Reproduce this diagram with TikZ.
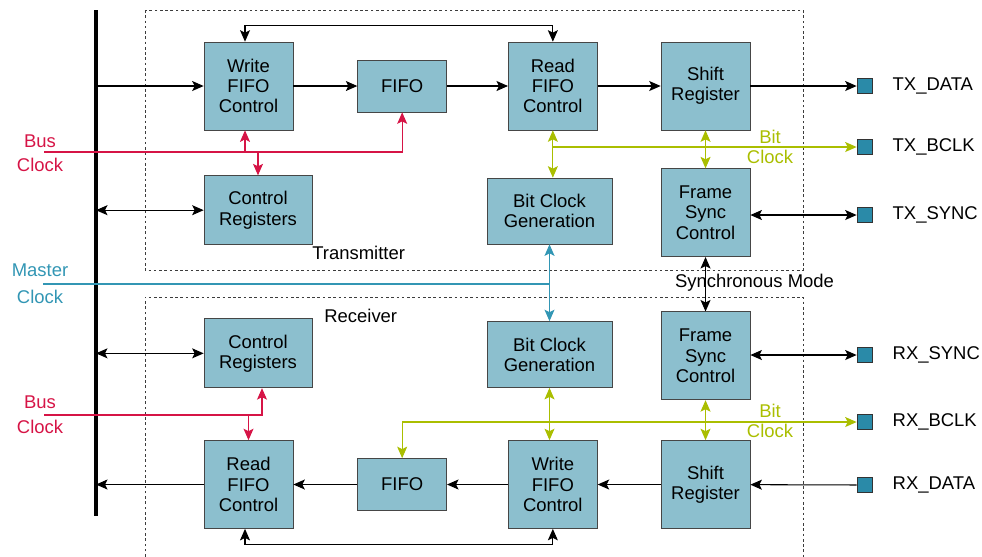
\documentclass[tikz,border=0pt]{standalone}
\usepackage{fontspec}
\setmainfont{Liberation Sans}
\usetikzlibrary{arrows.meta, positioning}
\definecolor{blockfill}{RGB}{140, 191, 206}
\definecolor{blockline}{RGB}{70, 70, 70}
\definecolor{pinfill}{RGB}{42, 138, 168}
\definecolor{busred}{RGB}{214, 20, 70}
\definecolor{bitgreen}{RGB}{170, 190, 0}
\definecolor{masterblue}{RGB}{50, 150, 180}
\definecolor{framegray}{RGB}{60, 60, 60}

\begin{document}
\begin{tikzpicture}[
    x=0.02cm, y=-0.02cm,
    font=\fontsize{10.5}{11.5}\selectfont,
    >={Stealth[length=2.3mm, width=2mm, inset=0.5mm]},
    block/.style={draw=blockline, fill=blockfill, align=center, inner sep=1pt,
                  minimum width=1.78cm, minimum height=1.76cm},
    fifo/.style={block, minimum height=1.04cm},
    regs/.style={block, minimum width=2.16cm, minimum height=1.38cm},
    bitgen/.style={block, minimum width=2.5cm, minimum height=1.32cm},
    iopin/.style={draw=black!80, fill=pinfill, minimum size=0.3cm, inner sep=0pt},
    pintext/.style={inner sep=0pt},
    sidetext/.style={align=center, inner sep=0pt},
    unitframe/.style={draw=framegray, line width=0.5pt, dash pattern=on 1.5pt off 1.5pt},
    bus/.style={line width=1.8pt},
    wire/.style={line width=0.6pt, black},
    clk/.style={line width=0.6pt, busred},
    bclk/.style={line width=0.6pt, bitgreen},
    mclk/.style={line width=0.6pt, masterblue}
]
    \useasboundingbox (0,0) rectangle (982,556);

    \draw[unitframe] (145,10) rectangle (803,270);
    \draw[unitframe] (145,562) |- (803,297) -- (803,562);
    \node[pintext, anchor=west] (txName) at (312,253) {Transmitter};
    \node[pintext, anchor=west] (rxName) at (324,316) {Receiver};

    \coordinate (busTop) at (96,10);
    \coordinate (busBot) at (96,516);
    \draw[bus] (busTop) -- (busBot);

    % transmitter
    \node[block] (wfcT) at (248.5,86) {Write\\FIFO\\Control};
    \node[fifo, right=1.28cm of wfcT] (fifoT) {FIFO};
    \node[block, right=1.22cm of fifoT] (rfcT) {Read\\FIFO\\Control};
    \node[block, right=1.26cm of rfcT] (shT) {Shift\\Register};
    \node[block, below=0.76cm of shT] (fsT) {Frame\\Sync\\Control};
    \node[regs, below right=0.9cm and 0cm of wfcT.south west] (crT) {Control\\Registers};
    \node[bitgen] (bcgT) at (549.5,211) {Bit Clock\\Generation};

    \node[iopin] (pTD) at (864.5,86) {};
    \node[iopin] (pTB) at (864.5,147) {};
    \node[iopin] (pTS) at (864.5,215) {};
    \node[pintext, right=0.4cm of pTD] (lTD) {TX\_DATA};
    \node[pintext, right=0.4cm of pTB] (lTB) {TX\_BCLK};
    \node[pintext, right=0.4cm of pTS] (lTS) {TX\_SYNC};

    % receiver
    \node[block] (rfcR) at (248.5,484.5) {Read\\FIFO\\Control};
    \node[fifo, right=1.28cm of rfcR] (fifoR) {FIFO};
    \node[block, right=1.22cm of fifoR] (wfcR) {Write\\FIFO\\Control};
    \node[block, right=1.26cm of wfcR] (shR) {Shift\\Register};
    \node[block, above=0.8cm of shR] (fsR) {Frame\\Sync\\Control};
    \node[regs, above right=1.04cm and 0cm of rfcR.north west] (crR) {Control\\Registers};
    \node[bitgen] (bcgR) at (549.5,354.5) {Bit Clock\\Generation};

    \node[iopin] (pRS) at (864.5,355) {};
    \node[iopin] (pRB) at (864.5,422) {};
    \node[iopin] (pRD) at (864.5,485) {};
    \node[pintext, right=0.4cm of pRS] (lRS) {RX\_SYNC};
    \node[pintext, right=0.4cm of pRB] (lRB) {RX\_BCLK};
    \node[pintext, right=0.4cm of pRD] (lRD) {RX\_DATA};

    % clock labels
    \coordinate (bcT) at (44,152);
    \coordinate (bcR) at (44,415);
    \coordinate (mcO) at (43,284);
    \node[sidetext, text=busred] (lBusT) at (40,153) {Bus\\[2pt]Clock};
    \node[sidetext, text=busred] (lBusR) at (40,414.5) {Bus\\[2.7pt]Clock};
    \node[sidetext, text=masterblue] (lMaster) at (40,283.5) {Master\\[3.8pt]Clock};
    \node[sidetext, text=bitgreen] (lBitT) at (770,147) {Bit\\Clock};
    \node[sidetext, text=bitgreen] (lBitR) at (770,421) {Bit\\Clock};
    \node[pintext] (lSync) at (754.5,283) {Synchronous Mode};

    % transmitter connectors
    \draw[wire, ->] (wfcT.west -| busTop) -- (wfcT.west);
    \draw[wire, ->] (wfcT) -- (fifoT);
    \draw[wire, ->] (fifoT) -- (rfcT);
    \draw[wire, ->] (rfcT) -- (shT);
    \draw[wire, ->] (shT) -- (pTD);
    \draw[wire, <->] ([xshift=-0.07cm]wfcT.north) -- ++(0,-16) -| (rfcT.north);
    \draw[wire, <->] (crT.west -| busTop) -- (crT.west);
    \draw[wire, <->] (fsT.east |- pTS) -- (pTS);
    \draw[wire, <->] (fsT) -- (fsR);
    \draw[clk, ->] (bcT) -| (fifoT.south);
    \draw[clk, ->] ([xshift=-0.07cm]wfcT.south |- bcT) -- ([xshift=-0.07cm]wfcT.south);
    \draw[clk, ->] (crT.north |- bcT) -- (crT.north);
    \draw[bclk, <->] (rfcT.south) -- (rfcT.south |- bcgT.north);
    \draw[bclk, ->] (rfcT.south |- pTB) -- (pTB);
    \draw[bclk, <->] (shT) -- (fsT);
    \draw[mclk] (mcO) -- (bcgT.south |- mcO);
    \draw[mclk, <->] (bcgT) -- (bcgR);

    % receiver connectors
    \draw[wire, <->] (crR.west -| busTop) -- (crR.west);
    \draw[wire, ->] (rfcR.west) -- (rfcR.west -| busTop);
    \draw[wire, ->] (fifoR) -- (rfcR);
    \draw[wire, ->] (wfcR) -- (fifoR);
    \draw[wire, ->] (shR) -- (wfcR);
    \draw[wire, ->] (pRD) -- (shR);
    \draw[wire, <->] (wfcR.south) -- ++(0,16) -| ([xshift=-0.07cm]rfcR.south);
    \draw[wire, <->] (fsR.east |- pRS) -- (pRS);
    \draw[clk, ->] (bcR) -| ([xshift=0.08cm]crR.south);
    \draw[clk, ->] (rfcR.north |- bcR) -- (rfcR.north);
    \draw[bclk, <->] (bcgR.south) -- (bcgR.south |- wfcR.north);
    \draw[bclk, <->] (fifoR.north) |- (pRB);
    \draw[bclk, <->] (fsR) -- (shR);
\end{tikzpicture}
\end{document}
